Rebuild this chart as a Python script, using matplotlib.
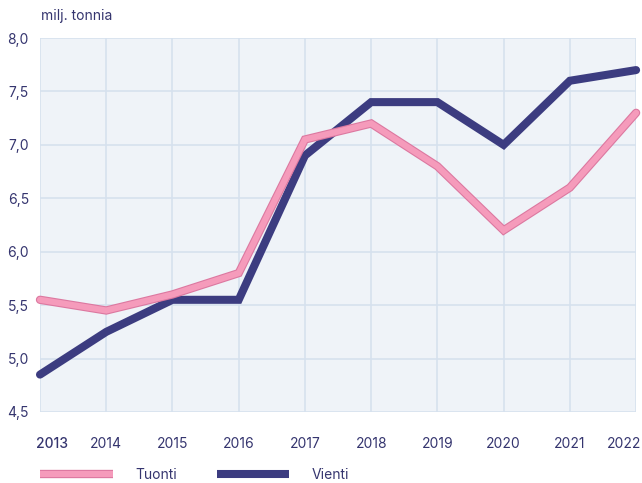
import matplotlib.pyplot as plt
import matplotlib.patheffects as pe
import matplotlib.transforms as mt
from matplotlib.lines import Line2D

# data
years = [2013, 2014, 2015, 2016, 2017, 2018, 2019, 2020, 2021, 2022]
tuonti = [5.55, 5.45, 5.6, 5.8, 7.05, 7.2, 6.8, 6.2, 6.6, 7.3]
vienti = [4.85, 5.25, 5.55, 5.55, 6.9, 7.4, 7.4, 7.0, 7.6, 7.7]
yticks = [4.5, 5.0, 5.5, 6.0, 6.5, 7.0, 7.5, 8.0]

navy = "#3c3c80"
pink = "#f59bbb"
pink_edge = "#dc78a0"
txt = "#35356f"

plt.rcParams["font.family"] = ["Inter", "DejaVu Sans"]

fig = plt.figure(figsize=(6.42, 4.83), dpi=100)
ax = fig.add_axes([0.0623, 0.147, 0.9285, 0.7743])
ax.set_facecolor("#eff3f8")

ax.plot(years, vienti, color=navy, lw=5.8, solid_capstyle="round",
        solid_joinstyle="miter", clip_on=False, zorder=3)
ax.plot(years, tuonti, color=pink, lw=4.4, solid_capstyle="round",
        solid_joinstyle="miter", clip_on=False, zorder=4,
        path_effects=[pe.Stroke(linewidth=6.0, foreground=pink_edge), pe.Normal()])

ax.set_xlim(2013, 2022)
ax.set_ylim(4.5, 8.0)
ax.set_yticks(yticks)
ax.set_yticklabels([f"{v:.1f}".replace(".", ",") for v in yticks])
ax.set_xticks(years)
ax.set_xticklabels([str(y) for y in years])
ax.grid(True, color="#d6e1ee", lw=1.2)
ax.set_axisbelow(True)
for s in ax.spines.values():
    s.set_visible(False)
ax.tick_params(length=0, labelsize=10, colors=txt, pad=8)
ax.tick_params(axis="x", pad=18)
xl = ax.get_xticklabels()
xl[0].set_ha("left")
xl[0].set_fontweight("medium")
xl[-1].set_ha("right")
# nudge the end labels like the original
xl[0].set_transform(xl[0].get_transform() + mt.ScaledTranslation(-4/100, 0, fig.dpi_scale_trans))
xl[-1].set_transform(xl[-1].get_transform() + mt.ScaledTranslation(5/100, 0, fig.dpi_scale_trans))

fig.text(0.064, 0.967, "milj. tonnia", fontsize=10, color=txt, va="center")

handles = [
    Line2D([], [], color=pink, lw=4.4, solid_capstyle="butt",
           path_effects=[pe.Stroke(linewidth=6.0, foreground=pink_edge, capstyle="butt"), pe.Normal()]),
    Line2D([], [], color=navy, lw=5.8, solid_capstyle="butt"),
]
fig.legend(handles, ["Tuonti", "Vienti"], loc="center left", bbox_to_anchor=(0.05, 0.016),
           ncol=2, frameon=False, fontsize=10, labelcolor=txt, borderpad=0.1,
           handlelength=5.2, handletextpad=1.6, columnspacing=2.9)

fig.savefig("out.png", dpi=100)
